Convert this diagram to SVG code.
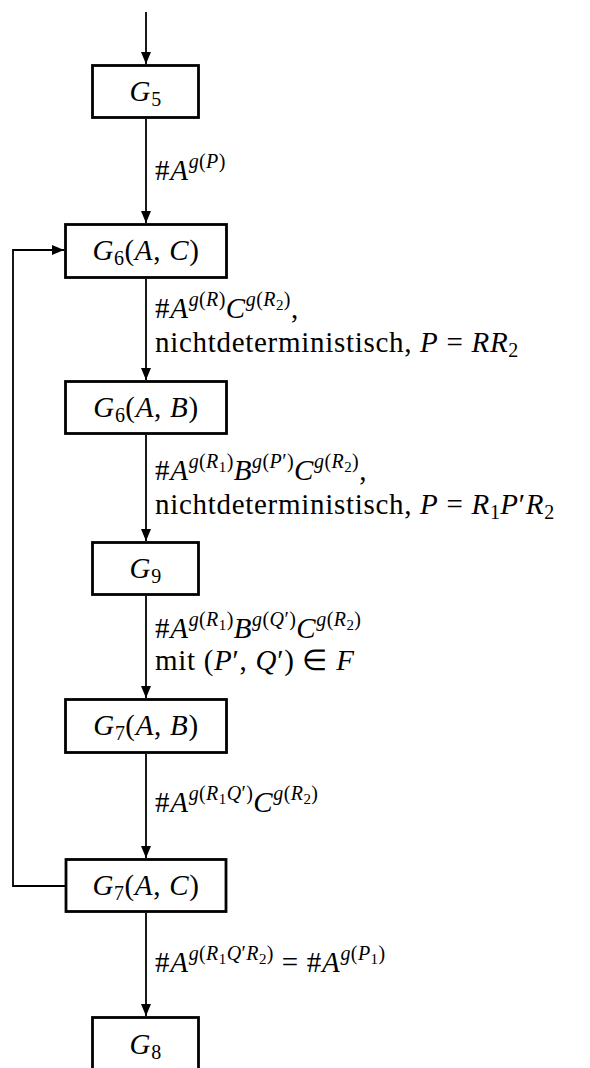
<svg xmlns="http://www.w3.org/2000/svg" width="590" height="1068" viewBox="0 0 590 1068">
<style>
text{font-size:29px;fill:#000;letter-spacing:0.7px}
.c{text-anchor:middle}
.i{font-style:italic}
.s{font-size:20px;letter-spacing:0.4px}
.ss{font-size:15px}
.box{fill:#fff;stroke:#000;stroke-width:2.8}
.ln{fill:none;stroke:#000;stroke-width:1.8}
</style>
<defs>
<marker id="ah" markerUnits="userSpaceOnUse" markerWidth="12" markerHeight="10" refX="12" refY="5" orient="auto">
<path d="M0,0 L12,5 L0,10 z" fill="#000"/>
</marker>
</defs>
<rect width="590" height="1068" fill="#fff"/>
<g id="connectors">
<line class="ln" x1="146" y1="12" x2="146" y2="64" marker-end="url(#ah)"/>
<line class="ln" x1="146" y1="119" x2="146" y2="223" marker-end="url(#ah)"/>
<line class="ln" x1="146" y1="279" x2="146" y2="380" marker-end="url(#ah)"/>
<line class="ln" x1="146" y1="435" x2="146" y2="541" marker-end="url(#ah)"/>
<line class="ln" x1="146" y1="596" x2="146" y2="698" marker-end="url(#ah)"/>
<line class="ln" x1="146" y1="754" x2="146" y2="858" marker-end="url(#ah)"/>
<line class="ln" x1="146" y1="913" x2="146" y2="1016" marker-end="url(#ah)"/>
<polyline class="ln" points="65,886 13,886 13,250 64,250" marker-end="url(#ah)"/>
<g id="labels">
<text style="font-family:'Liberation Serif',serif" x="155" y="180">#<tspan class="i">A</tspan><tspan class="s" dy="-12"><tspan class="i">g</tspan>(<tspan class="i">P</tspan>)</tspan></text>
<text style="font-family:'Liberation Serif',serif" x="155" y="318">#<tspan class="i">A</tspan><tspan class="s" dy="-12"><tspan class="i">g</tspan>(<tspan class="i">R</tspan>)</tspan><tspan class="i" dy="12">C</tspan><tspan class="s" dy="-12"><tspan class="i">g</tspan>(<tspan class="i">R</tspan><tspan class="ss" dy="4">2</tspan><tspan dy="-4">)</tspan></tspan><tspan dy="12">,</tspan></text>
<text style="font-family:'Liberation Serif',serif" x="155" y="352">nichtdeterministisch, <tspan class="i">P</tspan> = <tspan class="i">RR</tspan><tspan class="s" dy="5">2</tspan></text>
<text style="font-family:'Liberation Serif',serif" x="155" y="480">#<tspan class="i">A</tspan><tspan class="s" dy="-12"><tspan class="i">g</tspan>(<tspan class="i">R</tspan><tspan class="ss" dy="4">1</tspan><tspan dy="-4">)</tspan></tspan><tspan class="i" dy="12">B</tspan><tspan class="s" dy="-12"><tspan class="i">g</tspan>(<tspan class="i">P</tspan>′)</tspan><tspan class="i" dy="12">C</tspan><tspan class="s" dy="-12"><tspan class="i">g</tspan>(<tspan class="i">R</tspan><tspan class="ss" dy="4">2</tspan><tspan dy="-4">)</tspan></tspan><tspan dy="12">,</tspan></text>
<text style="font-family:'Liberation Serif',serif" x="155" y="514">nichtdeterministisch, <tspan class="i">P</tspan> = <tspan class="i">R</tspan><tspan class="s" dy="5">1</tspan><tspan class="i" dy="-5">P</tspan>′<tspan class="i">R</tspan><tspan class="s" dy="5">2</tspan></text>
<text style="font-family:'Liberation Serif',serif" x="155" y="638">#<tspan class="i">A</tspan><tspan class="s" dy="-12"><tspan class="i">g</tspan>(<tspan class="i">R</tspan><tspan class="ss" dy="4">1</tspan><tspan dy="-4">)</tspan></tspan><tspan class="i" dy="12">B</tspan><tspan class="s" dy="-12"><tspan class="i">g</tspan>(<tspan class="i">Q</tspan>′)</tspan><tspan class="i" dy="12">C</tspan><tspan class="s" dy="-12"><tspan class="i">g</tspan>(<tspan class="i">R</tspan><tspan class="ss" dy="4">2</tspan><tspan dy="-4">)</tspan></tspan></text>
<text style="font-family:'Liberation Serif',serif" x="155" y="670">mit (<tspan class="i">P</tspan>′, <tspan class="i">Q</tspan>′) ∈ <tspan class="i">F</tspan></text>
<text style="font-family:'Liberation Serif',serif" x="155" y="812">#<tspan class="i">A</tspan><tspan class="s" dy="-12"><tspan class="i">g</tspan>(<tspan class="i">R</tspan><tspan class="ss" dy="4">1</tspan><tspan class="i" dy="-4">Q</tspan>′)</tspan><tspan class="i" dy="12">C</tspan><tspan class="s" dy="-12"><tspan class="i">g</tspan>(<tspan class="i">R</tspan><tspan class="ss" dy="4">2</tspan><tspan dy="-4">)</tspan></tspan></text>
<text style="font-family:'Liberation Serif',serif" x="155" y="972">#<tspan class="i">A</tspan><tspan class="s" dy="-12"><tspan class="i">g</tspan>(<tspan class="i">R</tspan><tspan class="ss" dy="4">1</tspan><tspan class="i" dy="-4">Q</tspan>′<tspan class="i">R</tspan><tspan class="ss" dy="4">2</tspan><tspan dy="-4">)</tspan></tspan><tspan dy="12"> = #</tspan><tspan class="i">A</tspan><tspan class="s" dy="-12"><tspan class="i">g</tspan>(<tspan class="i">P</tspan><tspan class="ss" dy="4">1</tspan><tspan dy="-4">)</tspan></tspan></text>
</g>
</g>
<g id="G5"><rect class="box" x="92.5" y="65.5" width="106" height="52"/><text style="font-family:'Liberation Serif',serif" class="c" x="145.5" y="101"><tspan class="i">G</tspan><tspan class="s" dy="5">5</tspan></text></g>
<g id="G6AC"><rect class="box" x="65.5" y="224.5" width="161" height="53"/><text style="font-family:'Liberation Serif',serif" class="c" x="146" y="260"><tspan class="i">G</tspan><tspan class="s" dy="5">6</tspan><tspan dy="-5">(</tspan><tspan class="i">A</tspan>, <tspan class="i">C</tspan>)</text></g>
<g id="G6AB"><rect class="box" x="65.5" y="381.5" width="161" height="52"/><text style="font-family:'Liberation Serif',serif" class="c" x="146" y="417"><tspan class="i">G</tspan><tspan class="s" dy="5">6</tspan><tspan dy="-5">(</tspan><tspan class="i">A</tspan>, <tspan class="i">B</tspan>)</text></g>
<g id="G9"><rect class="box" x="92.5" y="542.5" width="106" height="52"/><text style="font-family:'Liberation Serif',serif" class="c" x="145.5" y="578"><tspan class="i">G</tspan><tspan class="s" dy="5">9</tspan></text></g>
<g id="G7AB"><rect class="box" x="65.5" y="699.5" width="161" height="53"/><text style="font-family:'Liberation Serif',serif" class="c" x="146" y="735"><tspan class="i">G</tspan><tspan class="s" dy="5">7</tspan><tspan dy="-5">(</tspan><tspan class="i">A</tspan>, <tspan class="i">B</tspan>)</text></g>
<g id="G7AC"><rect class="box" x="66" y="859.5" width="160" height="52"/><text style="font-family:'Liberation Serif',serif" class="c" x="146" y="895"><tspan class="i">G</tspan><tspan class="s" dy="5">7</tspan><tspan dy="-5">(</tspan><tspan class="i">A</tspan>, <tspan class="i">C</tspan>)</text></g>
<g id="G8"><rect class="box" x="92.5" y="1017.5" width="106" height="80"/><text style="font-family:'Liberation Serif',serif" class="c" x="145.5" y="1054"><tspan class="i">G</tspan><tspan class="s" dy="5">8</tspan></text></g>
</svg>
